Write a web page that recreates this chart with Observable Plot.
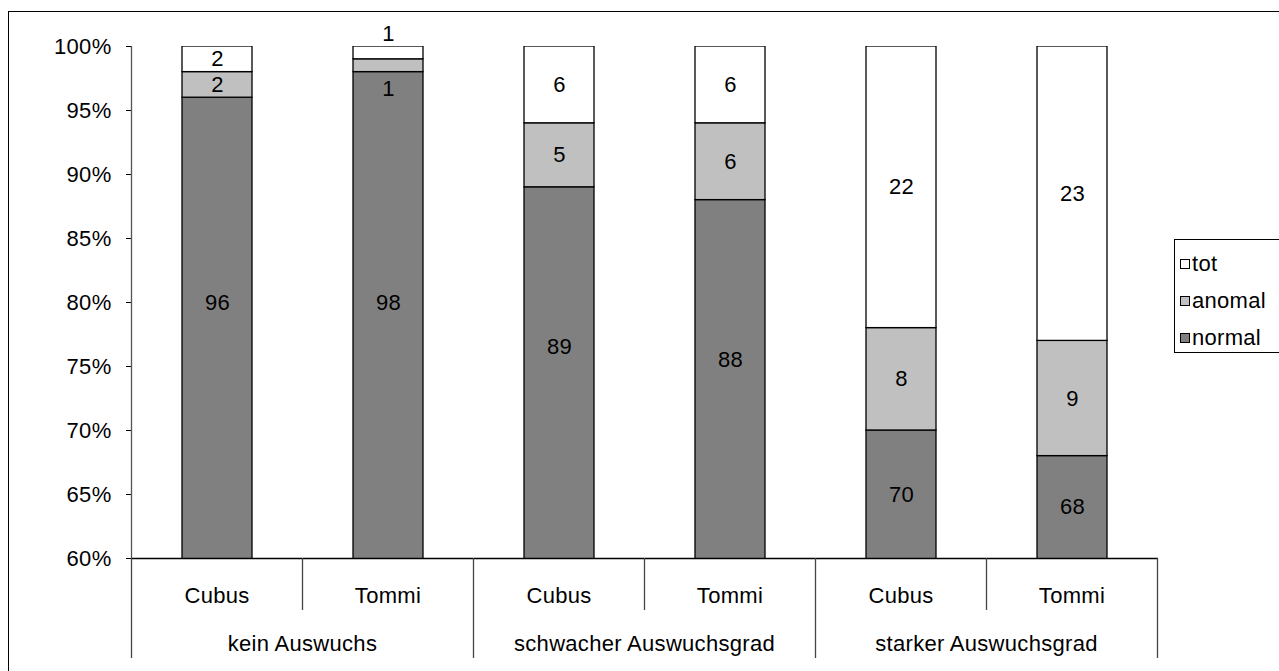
<!DOCTYPE html>
<html>
<head>
<meta charset="utf-8">
<script src="https://cdn.jsdelivr.net/npm/d3@7"></script>
<script src="https://cdn.jsdelivr.net/npm/@observablehq/plot@0.6"></script>
<style>
  body { margin: 0; background: #fff; }
  #wrap { position: relative; width: 1279px; height: 671px; overflow: hidden;
          font-family: "Liberation Sans", Arial, sans-serif; background: #fff; }
  #border { position: absolute; left: 8px; top: 11px; width: 1400px; height: 800px;
            border: 1.5px solid #000; box-sizing: border-box; }
  #chart { position: absolute; left: 0; top: 0; }
  #chart svg text { letter-spacing: 0.3px; }
  #legend { position: absolute; left: 1174px; top: 239px; width: 160px; height: 114px;
            border: 1.5px solid #000; box-sizing: border-box; background: #fff; }
  .item { position: absolute; left: 5px; height: 24px; display: flex; align-items: center;
          font-size: 22px; letter-spacing: 0.3px; color: #000; }
  .sw { width: 10px; height: 10px; border: 1px solid #000; box-sizing: border-box; margin-right: 2px; }
</style>
</head>
<body>
<div id="wrap">
  <div id="border"></div>
  <div id="chart"></div>
  <div id="legend"></div>
</div>
<script>
// Sprouting grade groups and varieties (two-level category axis)
const groups = ["kein Auswuchs", "schwacher Auswuchsgrad", "starker Auswuchsgrad"];
const varieties = ["Cubus", "Tommi"];

// Seedling shares in percent, one value per bar (Cubus/Tommi per group)
const normal = [96, 98, 89, 88, 70, 68];
const anomal = [2, 1, 5, 6, 8, 9];
const tot    = [2, 1, 6, 6, 22, 23];

// Stack order bottom to top, and series fills
const seriesNames = ["normal", "anomal", "tot"];
const seriesFills = ["#808080", "#c0c0c0", "#ffffff"];
const seriesValues = { normal, anomal, tot };

// Y axis ticks (percent)
const yTicks = [60, 65, 70, 75, 80, 85, 90, 95, 100];
const yMin = 60, yMax = 100;

// Build stacked rows
const keys = [];
const rows = [];
groups.forEach((g, gi) => varieties.forEach((v, vi) => {
  const i = gi * varieties.length + vi;
  const key = g + "|" + v;
  keys.push(key);
  let base = 0;
  for (const s of seriesNames) {
    const value = seriesValues[s][i];
    rows.push({ key, group: g, variety: v, series: s, value, y1: base, y2: base + value });
    base += value;
  }
}));

// Label position: centre of the visible part of a segment; segments cut off
// by the axis minimum get their label raised toward the middle of the plot,
// keeping some room below the segment top.
const midVisible = d => (Math.max(d.y1, yMin) + d.y2) / 2;
const labelY = d => d.y1 < yMin
  ? Math.max(midVisible(d), Math.min((yMin + yMax) / 2, d.y2 - 12.5))
  : midVisible(d);
const fits = d => d.value >= 1.5;

const font = `"Liberation Sans", Arial, sans-serif`;

const plot = Plot.plot({
  width: 1279,
  height: 671,
  marginLeft: 131,
  marginRight: 121,
  marginTop: 46,
  marginBottom: 113,
  style: { fontFamily: font, fontSize: "22px", color: "#000", background: "transparent", overflow: "visible" },
  x: { domain: keys, paddingInner: 0.59, paddingOuter: 0.295, axis: null },
  y: { domain: [yMin, yMax], axis: null },
  color: { domain: seriesNames, range: seriesFills },
  marks: [
    Plot.barY(rows, { x: "key", y1: "y1", y2: "y2", fill: "series", stroke: "#000", strokeWidth: 1.3, clip: true }),
    Plot.ruleY([yMin], { stroke: "#000", strokeWidth: 1.3 }),
    Plot.axisY({ ticks: yTicks, tickFormat: d => d + "%", tickSize: 5, tickPadding: 15, label: null, stroke: "#000" }),
    // labels inside segments
    Plot.text(rows.filter(fits), { x: "key", y: labelY, text: "value", fill: "#000" }),
    // thin top segments: label above
    Plot.text(rows.filter(d => !fits(d) && d.series === "tot"), { x: "key", y: midVisible, text: "value", fill: "#000", dy: -19 }),
    // thin middle segments: label below
    Plot.text(rows.filter(d => !fits(d) && d.series === "anomal"), { x: "key", y: midVisible, text: "value", fill: "#000", dy: 23 })
  ]
});
document.getElementById("chart").appendChild(plot);

// Two-level category axis below the plot, built from the plot's scales
const xs = plot.scale("x");
const ys = plot.scale("y");
const step = xs.step;
const half = (step - xs.bandwidth) / 2;
const x0 = xs.apply(keys[0]) - half;
const yBase = ys.apply(yMin);
const yTop = ys.apply(yMax);
const svg = d3.select(plot);
const g = svg.append("g").attr("font-family", font).attr("font-size", 22);

// vertical value axis line
g.append("line").attr("x1", x0).attr("x2", x0).attr("y1", yTop).attr("y2", yBase)
  .attr("stroke", "#555").attr("stroke-width", 1.3);

keys.forEach((k, i) => {
  // divider lines: long at group boundaries, short between varieties
  const xb = x0 + i * step;
  const long = i % varieties.length === 0;
  g.append("line").attr("x1", xb).attr("x2", xb).attr("y1", yBase)
    .attr("y2", yBase + (long ? 100 : 52)).attr("stroke", "#444").attr("stroke-width", 1.3);
  g.append("text").attr("x", xb + step / 2).attr("y", yBase + 37).attr("dy", "0.35em")
    .attr("text-anchor", "middle").text(k.split("|")[1]);
});
{
  const xb = x0 + keys.length * step;
  g.append("line").attr("x1", xb).attr("x2", xb).attr("y1", yBase)
    .attr("y2", yBase + 100).attr("stroke", "#444").attr("stroke-width", 1.3);
}
groups.forEach((grp, gi) => {
  const cx = x0 + (gi * varieties.length + varieties.length / 2) * step;
  g.append("text").attr("x", cx).attr("y", yBase + 85).attr("dy", "0.35em")
    .attr("text-anchor", "middle").text(grp);
});

// Legend, top entry first
const legend = d3.select("#legend");
seriesNames.slice().reverse().forEach((s, i) => {
  const item = legend.append("div").attr("class", "item").style("top", (12 + i * 37) + "px");
  item.append("div").attr("class", "sw").style("background", seriesFills[seriesNames.indexOf(s)]);
  item.append("span").text(s);
});
</script>
</body>
</html>
